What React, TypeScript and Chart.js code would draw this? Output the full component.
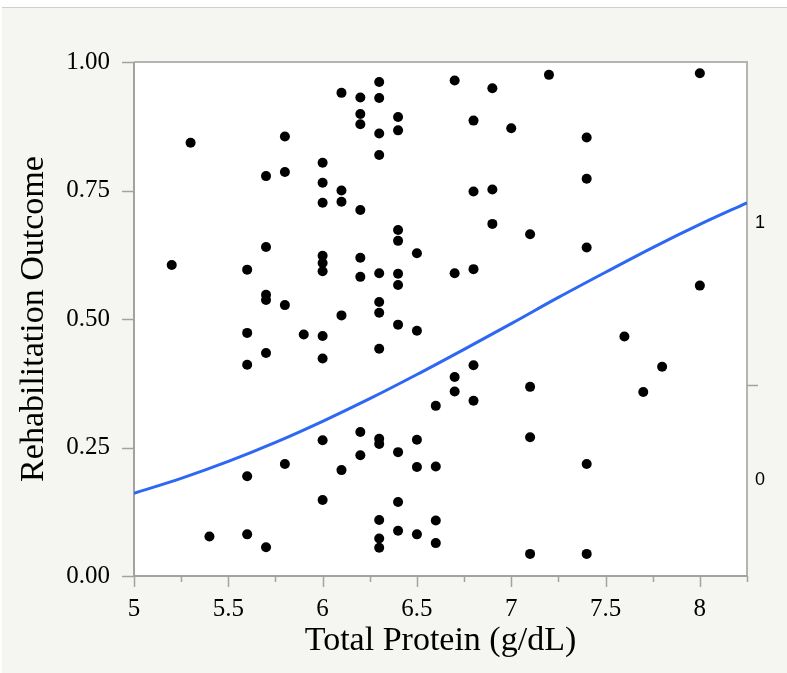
import React, { useEffect, useRef } from 'react';
import { Chart, registerables } from 'chart.js';

Chart.register(...registerables);

// Observed data (Total Protein g/dL vs. jittered rehabilitation outcome position)
const proteinValues = [
  5.2,
  5.3,
  5.4,
  5.6, 5.6, 5.6, 5.6, 5.6,
  5.7, 5.7, 5.7, 5.7, 5.7, 5.7,
  5.8, 5.8, 5.8, 5.8,
  5.9,
  6.0, 6.0, 6.0, 6.0, 6.0, 6.0, 6.0, 6.0, 6.0, 6.0,
  6.1, 6.1, 6.1, 6.1, 6.1,
  6.2, 6.2, 6.2, 6.2, 6.2, 6.2, 6.2, 6.2,
  6.3, 6.3, 6.3, 6.3, 6.3, 6.3, 6.3, 6.3, 6.3, 6.3, 6.3, 6.3, 6.3,
  6.4, 6.4, 6.4, 6.4, 6.4, 6.4, 6.4, 6.4, 6.4, 6.4,
  6.5, 6.5, 6.5, 6.5, 6.5,
  6.6, 6.6, 6.6, 6.6,
  6.7, 6.7, 6.7, 6.7,
  6.8, 6.8, 6.8, 6.8, 6.8,
  6.9, 6.9, 6.9,
  7.0,
  7.1, 7.1, 7.1, 7.1,
  7.2,
  7.4, 7.4, 7.4, 7.4, 7.4,
  7.6,
  7.7,
  7.8,
  8.0, 8.0,
];

const outcomeValues = [
  0.605,
  0.843,
  0.077,
  0.596, 0.473, 0.411, 0.194, 0.081,
  0.778, 0.640, 0.547, 0.537, 0.434, 0.056,
  0.855, 0.786, 0.527, 0.218,
  0.470,
  0.804, 0.765, 0.726, 0.623, 0.609, 0.593, 0.467, 0.423, 0.264, 0.148,
  0.940, 0.750, 0.728, 0.507, 0.206,
  0.931, 0.899, 0.879, 0.712, 0.619, 0.582, 0.280, 0.235,
  0.961, 0.930, 0.861, 0.819, 0.589, 0.533, 0.512, 0.442, 0.267, 0.257, 0.109, 0.073, 0.055,
  0.893, 0.867, 0.673, 0.652, 0.588, 0.566, 0.489, 0.241, 0.144, 0.088,
  0.628, 0.477, 0.265, 0.212, 0.081,
  0.331, 0.213, 0.108, 0.064,
  0.964, 0.589, 0.387, 0.359,
  0.886, 0.748, 0.597, 0.410, 0.341,
  0.949, 0.752, 0.685,
  0.871,
  0.665, 0.368, 0.270, 0.043,
  0.975,
  0.853, 0.773, 0.639, 0.218, 0.043,
  0.466,
  0.358,
  0.407,
  0.978, 0.565,
];

// Fitted logistic curve
const curveProtein = [5.0, 5.25, 5.5, 5.75, 6.0, 6.25, 6.5, 6.75, 7.0, 7.25, 7.5, 7.75, 8.0, 8.25];
const curveProbability = [0.161, 0.19, 0.223, 0.26, 0.301, 0.345, 0.392, 0.441, 0.491, 0.542, 0.591, 0.639, 0.684, 0.726];

// Axis ticks / labels
const xTickValues = [5, 5.25, 5.5, 5.75, 6, 6.25, 6.5, 6.75, 7, 7.25, 7.5, 7.75, 8, 8.25];
const yTickValues = [0, 0.25, 0.5, 0.75, 1];
const rightAxisLabels = ['0', '1'];
const rightAxisLabelPositions = [0.186, 0.686];
const rightAxisDivider = 0.372;

const SERIF = '"Liberation Serif", "Times New Roman", serif';
const SANS = '"Liberation Sans", Arial, sans-serif';

const framePlugin = {
  id: 'jmpFrame',
  beforeDraw(chart: any) {
    const { ctx, chartArea } = chart;
    ctx.save();
    ctx.fillStyle = '#ffffff';
    ctx.fillRect(chartArea.left, chartArea.top, chartArea.right - chartArea.left, chartArea.bottom - chartArea.top);
    ctx.restore();
  },
  beforeDatasetsDraw(chart: any) {
    const { ctx, chartArea } = chart;
    const { left, right, top, bottom } = chartArea;
    const xs = chart.scales.x;
    const ys = chart.scales.y;
    const ys2 = chart.scales.y2;
    ctx.save();
    // frame
    ctx.strokeStyle = '#b4b4b4';
    ctx.lineWidth = 2;
    ctx.beginPath();
    ctx.moveTo(left, top);
    ctx.lineTo(right, top);
    ctx.lineTo(right, bottom);
    ctx.stroke();
    // axes lines
    ctx.strokeStyle = '#a2a2a2';
    ctx.lineWidth = 2;
    ctx.beginPath();
    ctx.moveTo(left, top);
    ctx.lineTo(left, bottom);
    ctx.lineTo(right, bottom);
    ctx.stroke();
    // tick marks
    ctx.lineWidth = 1.5;
    ctx.beginPath();
    yTickValues.forEach((v) => {
      const py = Math.round(ys.getPixelForValue(v)) + 0.5;
      ctx.moveTo(left - 12, py);
      ctx.lineTo(left, py);
    });
    xTickValues.forEach((v) => {
      const px = Math.round(xs.getPixelForValue(v)) + 0.5;
      const major = Math.abs(v * 2 - Math.round(v * 2)) < 1e-9;
      ctx.moveTo(px, bottom);
      ctx.lineTo(px, bottom + (major ? 11 : 6));
    });
    const pd = Math.round(ys2.getPixelForValue(rightAxisDivider)) + 0.5;
    ctx.moveTo(right, pd);
    ctx.lineTo(right + 11, pd);
    ctx.stroke();
    ctx.restore();
  },
};

export default function App() {
  const canvasRef = useRef<HTMLCanvasElement | null>(null);

  useEffect(() => {
    const canvas = canvasRef.current;
    if (!canvas) return;
    const points = proteinValues.map((x, i) => ({ x, y: outcomeValues[i] }));
    const curve = curveProtein.map((x, i) => ({ x, y: curveProbability[i] }));

    const chart = new Chart(canvas, {
      type: 'scatter',
      data: {
        datasets: [
          {
            type: 'line',
            data: curve,
            borderColor: '#2d67f3',
            borderWidth: 3,
            pointRadius: 0,
            fill: false,
            cubicInterpolationMode: 'monotone',
            order: 2,
          } as any,
          {
            type: 'scatter',
            data: points,
            backgroundColor: '#000000',
            borderColor: '#000000',
            borderWidth: 0,
            pointRadius: 5,
            order: 1,
          } as any,
        ],
      },
      options: {
        animation: false,
        responsive: false,
        devicePixelRatio: 1,
        layout: { padding: { top: 62, left: 0, right: 0, bottom: 0 } },
        plugins: {
          legend: { display: false },
          tooltip: { enabled: false },
        },
        scales: {
          x: {
            type: 'linear',
            position: 'bottom',
            min: 5,
            max: 8.25,
            afterBuildTicks: (s: any) => {
              s.ticks = xTickValues.map((v) => ({ value: v }));
            },
            afterFit: (s: any) => {
              s.height = 97;
            },
            grid: { display: false },
            border: { display: false },
            ticks: {
              autoSkip: false,
              maxRotation: 0,
              padding: 10,
              color: '#000',
              font: { family: SERIF, size: 25 },
              callback: (v: any) => {
                const n = Number(v);
                return Math.abs(n * 2 - Math.round(n * 2)) < 1e-9 ? String(n) : '';
              },
            },
            title: {
              display: true,
              text: 'Total Protein (g/dL)',
              color: '#000',
              font: { family: SERIF, size: 34 },
              padding: { top: 0, bottom: 12 },
            },
          },
          y: {
            type: 'linear',
            position: 'left',
            min: 0,
            max: 1,
            afterBuildTicks: (s: any) => {
              s.ticks = yTickValues.map((v) => ({ value: v }));
            },
            afterFit: (s: any) => {
              s.width = 134;
            },
            grid: { display: false },
            border: { display: false },
            ticks: {
              padding: 16,
              color: '#000',
              font: { family: SERIF, size: 25 },
              callback: (v: any) => Number(v).toFixed(2),
            },
            title: {
              display: true,
              text: 'Rehabilitation Outcome',
              color: '#000',
              font: { family: SERIF, size: 34 },
              padding: { top: 14, bottom: 0 },
            },
          },
          y2: {
            type: 'linear',
            position: 'right',
            min: 0,
            max: 1,
            afterBuildTicks: (s: any) => {
              s.ticks = rightAxisLabelPositions.map((v) => ({ value: v }));
            },
            afterFit: (s: any) => {
              s.width = 40;
            },
            grid: { display: false },
            border: { display: false },
            ticks: {
              padding: 0,
              color: '#000',
              font: { family: SANS, size: 18 },
              callback: (_v: any, i: number) => rightAxisLabels[i],
            },
          },
        },
      } as any,
      plugins: [framePlugin],
    });

    return () => {
      chart.destroy();
    };
  }, []);

  return (
    <div style={{ position: 'absolute', left: 0, top: 0, width: 787, height: 673, background: '#ffffff', overflow: 'hidden' }}>
      <div
        style={{
          position: 'absolute',
          left: 2,
          top: 7,
          right: 0,
          bottom: 0,
          background: '#f5f5f1',
          borderTop: '1px solid #cfcfcf',
        }}
      />
      <canvas
        ref={canvasRef}
        width={787}
        height={673}
        style={{ position: 'absolute', left: 0, top: 0, width: 787, height: 673 }}
      />
    </div>
  );
}
